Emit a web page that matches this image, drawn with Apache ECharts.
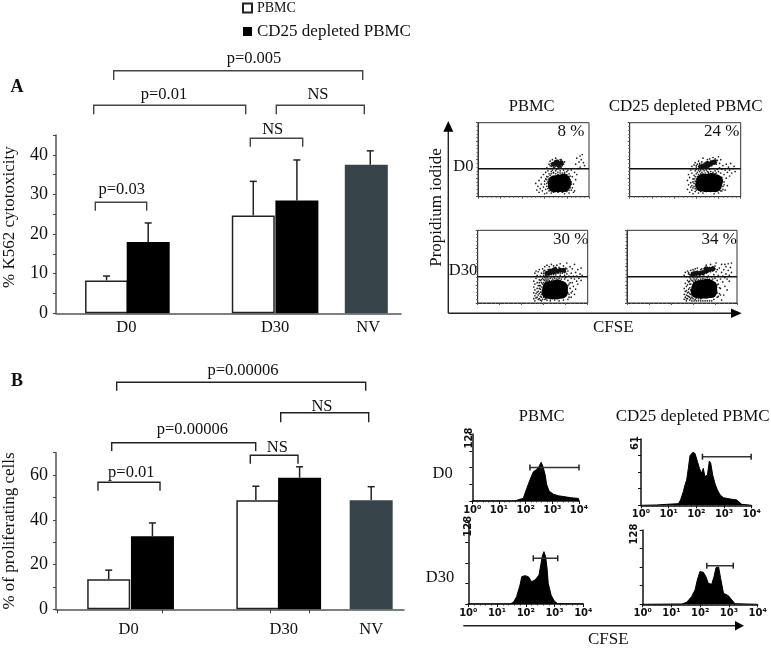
<!DOCTYPE html>
<html>
<head>
<meta charset="utf-8">
<style>html,body{margin:0;padding:0;background:#fff}#c{width:771px;height:648px}</style>
<script src="https://cdn.jsdelivr.net/npm/echarts@6/dist/echarts.min.js"></script>
</head>
<body>
<div id="c"></div>
<script>
// ---------- bar values ----------
const groupLabels = ['D0', 'D30', 'NV'];
const a_pbmc = [8.3, 24.7];
const a_cd25 = [18, 28.5];
const a_nv = [37.5];
const a_err_pbmc = [9.4, 33.3];
const a_err_cd25 = [22.8, 38.7];
const a_err_nv = [41];
const b_pbmc = [13.4, 48.7];
const b_cd25 = [32.7, 58.8];
const b_nv = [48.7];
const b_err_pbmc = [17.5, 55];
const b_err_cd25 = [38.6, 63.7];
const b_err_nv = [54.8];
const histTicks = ['10⁰', '10¹', '10²', '10³', '10⁴'];

// ---------- dot plots: [CFSE, PI] in % of panel ----------
const d1_core = [[69,15],[73,15],[77,15],[69,20],[73,21],[77,22],[78,18]];
const d1_upper = [[68,44],[72,44],[75,46],[71,47],[73,42]];
const d1_dots = [[52,18],[53,9],[54,14],[55,22],[55,6],[56,11],[57,17],[57,26],[58,8],[59,13],[59,30],[60,4],[60,21],[61,33],[61,10],[62,27],[62,39],[62,5],[63,35],[64,31],[64,44],[65,38],[65,48],[66,34],[66,41],[67,36],[67,50],[68,32],[69,39],[70,35],[70,52],[71,37],[72,33],[73,38],[74,35],[75,40],[75,50],[76,32],[77,36],[78,33],[79,38],[80,34],[81,36],[82,31],[83,28],[84,36],[84,20],[85,12],[85,27],[86,17],[87,33],[87,8],[88,23],[88,44],[89,52],[90,38],[91,47],[92,55],[93,50],[94,57],[95,46],[92,40],[96,42],[89,30],[62,14],[63,20],[61,24],[64,8],[66,5],[68,6],[84,9],[82,5],[86,6],[78,4],
  [60,17],[62,18],[62,23],[63,11],[63,27],[64,16],[64,24],[65,29],[66,31],[68,33],[70,31],[72,30],[74,32],[76,30],[78,31],[80,30],[82,27],[83,23],[84,17],[83,12],[82,9],[80,7],[76,6],[72,6],[70,7],[66,8],[64,12],[65,42],[68,40],[70,41],[74,41],[76,42],[77,44],[78,47],[66,45],[69,48],[72,49],[74,50]];
const d2_core = [[65,16],[69,15],[73,15],[77,15],[66,22],[70,22],[74,23],[78,21]];
const d2_upper = [[64,40],[67,41],[70,42],[72,44],[74,46],[76,47],[70,45]];
const d2_dots = [[52,10],[52,22],[53,16],[53,30],[54,6],[54,26],[55,13],[55,36],[55,19],[56,9],[56,32],[56,41],[57,24],[57,4],[57,38],[58,14],[58,29],[58,43],[59,35],[59,7],[59,46],[60,31],[60,40],[60,37],[61,44],[61,33],[61,27],[62,36],[62,48],[62,5],[63,34],[63,45],[64,31],[64,36],[65,33],[65,47],[66,37],[66,52],[67,35],[68,32],[68,46],[69,36],[70,34],[70,50],[71,31],[72,37],[72,51],[73,34],[74,38],[75,33],[75,53],[76,38],[77,35],[77,51],[78,32],[78,44],[79,37],[79,49],[80,34],[80,54],[81,39],[81,45],[82,32],[82,50],[83,37],[83,26],[84,14],[84,42],[85,30],[85,20],[86,36],[86,9],[87,44],[87,25],[88,33],[88,15],[89,40],[90,28],[90,36],[91,45],[92,32],[93,38],[94,41],[95,34],[80,5],[76,4],[66,5],[62,9],[61,17],[60,13],[83,8],
  [56,15],[57,12],[57,20],[58,18],[58,24],[59,11],[59,21],[59,27],[60,17],[60,9],[60,24],[61,12],[61,21],[62,14],[62,25],[62,30],[63,10],[63,19],[63,28],[64,7],[65,29],[66,31],[67,29],[68,8],[69,30],[71,33],[73,31],[75,30],[77,31],[79,29],[80,27],[81,24],[81,12],[82,18],[82,8],[83,21],[84,10],[85,16],[60,42],[62,41],[63,43],[65,44],[66,39],[68,38],[69,39],[71,40],[72,41],[74,42],[76,44],[78,46],[78,49],[73,48],[70,47],[67,45]];
const d3_core = [[64,15],[68,14],[72,14],[76,15],[65,21],[69,22],[73,23],[76,21]];
const d3_upper = [[63,41],[66,42],[69,43],[72,44],[75,45],[78,45],[70,46],[66,44]];
const d3_dots = [[51,6],[51,14],[51,22],[51,30],[52,10],[52,18],[52,26],[52,41],[52,3],[53,7],[53,13],[53,34],[53,44],[54,20],[54,28],[54,38],[55,5],[55,11],[55,16],[55,43],[56,24],[56,32],[56,46],[57,9],[57,37],[57,19],[58,3],[58,28],[58,41],[59,34],[59,47],[59,14],[60,32],[60,38],[60,44],[61,5],[61,35],[61,50],[62,33],[62,37],[63,4],[63,35],[63,52],[64,33],[65,37],[65,50],[66,3],[66,34],[67,36],[67,53],[68,33],[69,36],[69,51],[70,4],[70,34],[71,37],[72,33],[72,52],[73,36],[74,3],[74,34],[75,38],[75,54],[76,33],[77,36],[78,4],[78,51],[79,33],[79,38],[80,35],[80,48],[81,40],[81,55],[82,5],[82,31],[82,44],[83,37],[83,26],[83,12],[84,20],[84,50],[85,34],[85,8],[85,41],[86,16],[86,28],[86,47],[87,37],[87,23],[88,12],[88,33],[88,53],[89,42],[89,19],[90,30],[90,37],[91,46],[91,26],[92,34],[93,40],[94,31],[95,38],[94,48],
  [54,8],[54,15],[55,24],[56,6],[56,13],[56,20],[56,28],[57,4],[57,15],[57,24],[57,31],[58,8],[58,12],[58,22],[58,32],[59,5],[59,18],[59,26],[60,8],[60,14],[60,21],[60,28],[61,11],[61,24],[61,31],[62,6],[62,29],[63,31],[65,31],[66,6],[67,30],[69,31],[71,31],[73,31],[75,30],[77,29],[79,28],[80,25],[81,18],[82,24],[82,14],[83,8],[84,28],[85,14],[60,41],[61,45],[62,38],[64,37],[65,39],[67,39],[69,39],[71,40],[73,41],[75,41],[77,41],[79,42],[80,43],[81,47],[74,49],[71,49],[68,47],[64,46]];
const d4_core = [[64,16],[68,15],[72,15],[76,16],[65,22],[69,23],[73,24],[76,22]];
const d4_upper = [[60,40],[63,41],[66,41],[69,42],[72,44],[75,46],[78,47],[72,47]];
const d4_dots = [[52,5],[52,12],[52,20],[52,38],[53,8],[53,16],[53,27],[53,42],[54,3],[54,11],[54,23],[54,36],[55,6],[55,14],[55,31],[55,44],[56,9],[56,19],[56,40],[57,4],[57,26],[57,35],[58,12],[58,33],[58,45],[59,3],[59,8],[59,37],[60,30],[60,35],[60,46],[61,3],[61,33],[62,36],[62,47],[63,3],[63,33],[64,35],[64,48],[65,3],[65,32],[66,36],[67,3],[67,33],[68,47],[69,3],[69,34],[70,37],[71,3],[71,33],[72,52],[73,3],[73,35],[74,37],[75,3],[75,33],[76,53],[77,3],[77,36],[78,33],[79,5],[79,39],[80,34],[80,51],[81,43],[81,55],[82,8],[82,31],[82,46],[83,26],[83,38],[84,13],[84,48],[85,20],[85,33],[86,4],[86,42],[86,53],[87,29],[87,37],[88,11],[88,46],[89,23],[89,35],[89,53],[90,40],[90,50],[91,18],[91,33],[92,45],[92,54],[93,30],[93,38],[94,49],[95,42],[95,55],
  [54,6],[54,17],[55,10],[55,25],[56,15],[56,29],[57,8],[57,13],[57,21],[57,30],[58,6],[58,18],[58,26],[59,11],[59,22],[59,31],[60,6],[60,14],[60,25],[61,9],[61,19],[61,28],[62,5],[62,12],[62,31],[63,7],[63,29],[65,6],[65,30],[67,6],[67,31],[69,31],[71,32],[73,32],[75,31],[77,31],[78,28],[80,27],[81,20],[82,25],[82,14],[83,9],[84,21],[85,11],[56,42],[57,39],[58,38],[61,37],[61,44],[63,38],[64,44],[66,38],[67,46],[69,39],[70,47],[72,41],[74,43],[76,43],[78,44],[80,47],[78,50],[75,49]];
const gateA_row1 = 37.8;
const gateA_row2 = 36.2;
const pctLabels = ['8 %', '24 %', '30 %', '34 %'];

// ---------- CFSE histograms: [log10 CFSE, count] ----------
const h1_x = [0,1.6,1.73,1.91,2.04,2.16,2.29,2.41,2.5,2.58,2.65,2.73,2.79,2.88,3.04,3.23,3.48,3.73,3.98,4];
const h1_y = [0,0,2.6,5,24,40,56,60,66,74,66,50,31,19,13,10,8,6,5,0];
const h1_gate = [2.16, 4, 64];
const h2_x = [0,0.57,0.93,1.35,1.43,1.53,1.59,1.65,1.71,1.77,1.87,1.95,2.04,2.11,2.19,2.25,2.31,2.4,2.47,2.52,2.59,2.67,2.76,2.86,2.98,3.22,3.46,3.64,4];
const h2_y = [0,0.3,0.9,1.5,4.9,12.6,18.7,23.3,34,45.7,48.7,47.8,40.2,34,29.4,34,26.4,27.9,40.8,38.6,27.9,20.2,14.1,9.5,7,5.8,4.9,0.9,0];
const h2_gate = [2.22, 3.98, 44.7];
const h3_x = [0,1.45,1.57,1.68,1.8,1.86,1.97,2.09,2.2,2.32,2.46,2.53,2.57,2.63,2.69,2.74,2.78,2.88,2.99,3.11,4];
const h3_y = [0,0,2.6,11.5,29.8,42.8,44.4,42.8,35,37.6,45.4,63.7,74.2,82,74.2,55.9,32.4,14,4.7,0.5,0];
const h3_gate = [2.26, 3.11, 71.6];
const h4_x = [0,1.36,1.53,1.7,1.82,1.9,1.99,2.11,2.2,2.28,2.4,2.48,2.55,2.64,2.71,2.81,2.98,3.1,3.21,4];
const h4_y = [0,0.6,3.4,13.2,24.7,41.9,56.3,55.1,47.6,36.2,34.4,47.6,63.1,64.3,44.8,18.9,14.9,7.5,1.1,0];
const h4_gate = [2.23, 3.15, 66.6];

// ---------- layout (pixels) ----------
const SERIF = '"Liberation Serif", "Times New Roman", serif';
const grids = [], xAxis = [], yAxis = [], series = [], graphic = [];

const errorSeries = (idx, xs, vals, tops) => ({
  type: 'custom', name: 'error', xAxisIndex: idx, yAxisIndex: idx, z: 1, silent: true,
  data: xs.map((x, i) => [x, vals[i], tops[i]]),
  encode: { x: 0, y: [1, 2] },
  renderItem: (p, api) => {
    const a = api.coord([api.value(0), api.value(1)]);
    const b = api.coord([api.value(0), api.value(2)]);
    const st = { stroke: '#222', lineWidth: 1.5, fill: null };
    return { type: 'group', children: [
      { type: 'line', shape: { x1: a[0], y1: a[1], x2: b[0], y2: b[1] }, style: st },
      { type: 'line', shape: { x1: b[0] - 3.5, y1: b[1], x2: b[0] + 3.5, y2: b[1] }, style: st }
    ] };
  }
});

// The bar charts use a fine-grained category axis: every slot is 2px wide, and only
// the slots under the group labels carry text, so the irregular spacing comes from
// the axis itself.
function barPanel(g, opt) {
  const i = grids.length;
  grids.push(g);
  const slots = Math.round(g.width / 2);
  const w = g.width / slots;
  const slot = px => Math.max(0, Math.round(px / w - 0.5));
  const cats = new Array(slots).fill('');
  opt.labelX.forEach((px, k) => { cats[slot(px)] = groupLabels[k]; });
  const ticks = opt.tickX.map(slot);
  xAxis.push({
    type: 'category', gridIndex: i, data: cats, splitLine: { show: false },
    axisLine: { show: true, onZero: false, lineStyle: { color: '#555', width: 1.5 } },
    axisTick: ticks.length
      ? { show: true, alignWithLabel: true, interval: idx => ticks.includes(idx), length: 4, lineStyle: { color: '#444', width: 1 } }
      : { show: false },
    axisLabel: { show: true, interval: 0, hideOverlap: false, margin: opt.labelMargin, color: '#111',
      fontFamily: SERIF, fontSize: 16.5 }
  });
  yAxis.push({
    type: 'value', gridIndex: i, min: 0, max: opt.yMax, interval: opt.yStep, splitLine: { show: false },
    name: opt.yName, nameLocation: 'middle', nameGap: 38, nameRotate: 90,
    nameTextStyle: { fontFamily: SERIF, fontSize: 17, color: '#111', padding: opt.namePad },
    axisLine: { show: true, lineStyle: { color: '#555', width: 1.5 } },
    axisTick: { show: true, length: 3, lineStyle: { color: '#444', width: 1 } },
    axisLabel: { margin: 8, color: '#111', fontFamily: SERIF, fontSize: 18,
      formatter: v => (v % opt.majorStep === 0 ? String(v) : '') }
  });
  const bar = (name, xs, vals, style) => ({
    type: 'bar', name, xAxisIndex: i, yAxisIndex: i, barWidth: 43, barGap: '-100%', z: 2,
    data: xs.map((px, k) => [slot(px), vals[k]]), itemStyle: style
  });
  series.push(
    errorSeries(i, opt.errX[0].map(slot), opt.pbmc, opt.errPbmc),
    errorSeries(i, opt.errX[1].map(slot), opt.cd25, opt.errCd25),
    errorSeries(i, opt.errX[2].map(slot), opt.nv, opt.errNv),
    bar('PBMC', opt.barX[0], opt.pbmc, { color: '#fff', borderColor: '#222', borderWidth: 1.5 }),
    bar('CD25 depleted PBMC', opt.barX[1], opt.cd25, { color: '#000' }),
    bar('NV', opt.barX[2], opt.nv, { color: '#37444a' })
  );
}

barPanel({ left: 54, top: 135, width: 347, height: 178.3 }, {
  labelX: [71, 221, 314], tickX: [], yMax: 45, yStep: 5, majorStep: 10, labelMargin: 6,
  yName: '% K562 cytotoxicity', namePad: [0, 0, 0, 14],
  pbmc: a_pbmc, cd25: a_cd25, nv: a_nv, errPbmc: a_err_pbmc, errCd25: a_err_cd25, errNv: a_err_nv,
  errX: [[50.3, 199], [93.3, 241.7], [315.3]], barX: [[50.3, 199], [93.5, 242], [313]]
});
barPanel({ left: 54, top: 452.7, width: 350, height: 156.6 }, {
  labelX: [73.7, 229.3, 317], tickX: [0, 107, 214, 255], yMax: 70, yStep: 10, majorStep: 20, labelMargin: 12,
  yName: '% of proliferating cells', namePad: [0, 0, 0, 0],
  pbmc: b_pbmc, cd25: b_cd25, nv: b_nv, errPbmc: b_err_pbmc, errCd25: b_err_cd25, errNv: b_err_nv,
  errX: [[53, 201.7], [96, 244.3], [317.7]], barX: [[53, 202], [96, 244.5], [316.5]]
});

function dotPanel(g, core, upper, dots, gate) {
  const i = grids.length;
  grids.push(Object.assign({ show: true, borderColor: '#333', borderWidth: 1, backgroundColor: 'transparent' }, g));
  xAxis.push({
    type: 'value', gridIndex: i, min: 0, max: 100, interval: 20, splitLine: { show: false },
    axisLine: { show: true, lineStyle: { color: '#333' } }, axisLabel: { show: false },
    axisTick: { show: true, length: 2, lineStyle: { color: '#555' } },
    minorTick: { show: true, splitNumber: 5, length: 1, lineStyle: { color: '#666' } }
  });
  yAxis.push({
    type: 'value', gridIndex: i, min: 0, max: 100, interval: 25, splitLine: { show: false },
    axisLine: { show: true, lineStyle: { color: '#333' } }, axisLabel: { show: false },
    axisTick: { show: true, length: 2, lineStyle: { color: '#555' } },
    minorTick: { show: true, splitNumber: 5, length: 1.5, lineStyle: { color: '#666' } }
  });
  const sc = (data, size, color) => ({
    type: 'scatter', xAxisIndex: i, yAxisIndex: i, symbolSize: size, silent: true, data,
    itemStyle: { color, opacity: 1 }
  });
  series.push(sc(dots, 1.7, '#222'), sc(upper, 5, '#111'), sc(core, 13.5, '#000'));
  series.push({
    type: 'line', xAxisIndex: i, yAxisIndex: i, data: [[0, gate], [100, gate]], symbol: 'none', silent: true,
    lineStyle: { color: '#111', width: 1.5 }
  });
}
dotPanel({ left: 478, top: 122.7, width: 111, height: 74 }, d1_core, d1_upper, d1_dots, gateA_row1);
dotPanel({ left: 629.7, top: 122.7, width: 111, height: 74 }, d2_core, d2_upper, d2_dots, gateA_row1);
dotPanel({ left: 477.7, top: 230.3, width: 110, height: 72.7 }, d3_core, d3_upper, d3_dots, gateA_row2);
dotPanel({ left: 627, top: 230.3, width: 110, height: 72.7 }, d4_core, d4_upper, d4_dots, gateA_row2);

function histPanel(g, xs, ys, gate, yMax, topLabelMargin) {
  const i = grids.length;
  grids.push(g);
  xAxis.push({
    type: 'value', gridIndex: i, min: 0, max: 4, interval: 1, splitLine: { show: false },
    axisLine: { show: true, lineStyle: { color: '#111', width: 1.5 } },
    axisTick: { show: true, length: 3, lineStyle: { color: '#111' } },
    minorTick: { show: true, splitNumber: 5, length: 1.5, lineStyle: { color: '#333' } },
    axisLabel: { margin: 4, color: '#111', fontFamily: '"DejaVu Sans", sans-serif', fontWeight: 'bold', fontSize: 10,
      formatter: v => histTicks[v], hideOverlap: false, showMinLabel: true, showMaxLabel: true }
  });
  yAxis.push({
    type: 'value', gridIndex: i, min: 0, max: yMax, interval: yMax / 4, splitLine: { show: false },
    axisLine: { show: true, lineStyle: { color: '#111', width: 1.5 } },
    axisTick: { show: true, length: 3, lineStyle: { color: '#111' } },
    axisLabel: { margin: topLabelMargin, rotate: 90, color: '#111', fontFamily: '"DejaVu Sans", sans-serif', fontWeight: 'bold', fontSize: 10,
      padding: [0, 8, 0, 0], formatter: v => (v === yMax ? String(yMax) : ''), showMaxLabel: true, verticalAlign: 'middle' }
  });
  series.push({
    type: 'line', xAxisIndex: i, yAxisIndex: i, data: xs.map((x, k) => [x, ys[k]]), symbol: 'none', silent: true,
    lineStyle: { color: '#000', width: 1 }, areaStyle: { color: '#000', opacity: 1 }
  });
  series.push({
    type: 'line', xAxisIndex: i, yAxisIndex: i, z: 3, silent: true,
    data: [[gate[0], gate[2]], [gate[1], gate[2]]],
    symbol: 'rect', symbolSize: [1.5, 6], lineStyle: { color: '#333', width: 1.5 }, itemStyle: { color: '#222' }
  });
}
histPanel({ left: 472.3, top: 434, width: 106.7, height: 67 }, h1_x, h1_y, h1_gate, 128, 3);
histPanel({ left: 641, top: 439, width: 110.7, height: 66.3 }, h2_x, h2_y, h2_gate, 61, 6);
histPanel({ left: 468.3, top: 522.3, width: 115, height: 81.7 }, h3_x, h3_y, h3_gate, 128, 0);
histPanel({ left: 642.7, top: 530, width: 115, height: 74.3 }, h4_x, h4_y, h4_gate, 128, 8);

// ---------- annotations ----------
const label = (t, cx, cy, size, extra) => graphic.push(Object.assign({
  type: 'text', x: cx, y: cy, silent: true,
  style: { text: t, font: (extra && extra.bold ? 'bold ' : '') + size + 'px ' + SERIF, fill: '#111', align: 'center', verticalAlign: 'middle' }
}, extra && extra.rotation ? { rotation: extra.rotation } : {}));
const bracket = (x1, x2, top, bot, color) => graphic.push({
  type: 'polyline', silent: true,
  shape: { points: [[x1, bot], [x1, top], [x2, top], [x2, bot]] },
  style: { stroke: color, lineWidth: 1.4, fill: null }
});
const arrowLine = (x1, y1, x2, y2) => graphic.push({ type: 'line', silent: true, shape: { x1, y1, x2, y2 }, style: { stroke: '#222', lineWidth: 1.4 } });
const tri = pts => graphic.push({ type: 'polygon', silent: true, shape: { points: pts }, style: { fill: '#000' } });

label('A', 17, 87, 18, { bold: true });
label('B', 17, 381.7, 18, { bold: true });
[[113.7, 362.7, 70.7, 80], [93.7, 245.7, 105.3, 114.3], [276.3, 364.3, 105.3, 114.3], [250.3, 302.7, 138.3, 146.7], [95.3, 146.7, 202.3, 210.7]]
  .forEach(b => bracket(b[0], b[1], b[2], b[3], '#444'));
[[116.7, 365.7, 382.3, 390.7], [280.7, 368.7, 412.7, 422.3], [111.7, 255.7, 442.7, 451], [250.3, 298, 455.3, 463.7], [98, 160, 482.3, 490.7]]
  .forEach(b => bracket(b[0], b[1], b[2], b[3], '#222'));
label('p=0.005', 254, 59, 16.5);
label('p=0.01', 164, 94.7, 16.5);
label('NS', 318, 95, 16.5);
label('NS', 272.7, 130, 16.5);
label('p=0.03', 121.7, 190, 16.5);
label('p=0.00006', 243, 370.7, 16.5);
label('NS', 322, 406.7, 16.5);
label('p=0.00006', 192.3, 430, 16.5);
label('NS', 277.3, 447.7, 16.5);
label('p=0.01', 131.3, 472.3, 16.5);

label('PBMC', 531.7, 106.7, 16.5);
label('CD25 depleted PBMC', 685.7, 106.7, 17);
label('D0', 463.3, 167, 16.5);
label('D30', 463, 270.7, 16.5);
label('Propidium iodide', 436.7, 207.5, 17, { rotation: Math.PI / 2 });
label('CFSE', 613.3, 327.3, 17);
label(pctLabels[0], 571, 131.7, 17);
label(pctLabels[1], 721.7, 131.7, 17);
label(pctLabels[2], 570.7, 240, 17);
label(pctLabels[3], 719.3, 240, 17);
arrowLine(448.3, 313.3, 448.3, 130);
arrowLine(448.3, 313.3, 733, 313.3);
tri([[448.3, 121], [443.3, 131.7], [453.3, 131.7]]);
tri([[741.7, 313.3], [731, 308.6], [731, 318]]);

label('PBMC', 541.7, 416.7, 16.5);
label('CD25 depleted PBMC', 692.7, 416.7, 17);
label('D0', 442.7, 473.3, 16.5);
label('D30', 440, 577.7, 16.5);
label('CFSE', 608.3, 639.3, 17);
arrowLine(463.3, 625.7, 736, 625.7);
tri([[744, 625.7], [735, 621], [735, 630.4]]);

const chart = echarts.init(document.getElementById('c'), null, { renderer: 'canvas' });
chart.setOption({
  animation: false,
  backgroundColor: '#fff',
  textStyle: { fontFamily: SERIF },
  legend: [
    { data: [{ name: 'PBMC', icon: 'rect' }], left: 242, top: 1, itemWidth: 9, itemHeight: 9, padding: 0,
      selectedMode: false, textStyle: { fontFamily: SERIF, fontSize: 14, color: '#111' } },
    { data: [{ name: 'CD25 depleted PBMC', icon: 'rect' }], left: 243, top: 23, itemWidth: 9, itemHeight: 9, padding: 0,
      selectedMode: false, textStyle: { fontFamily: SERIF, fontSize: 17, color: '#111' } }
  ],
  grid: grids, xAxis, yAxis, series, graphic
});
</script>
</body>
</html>
